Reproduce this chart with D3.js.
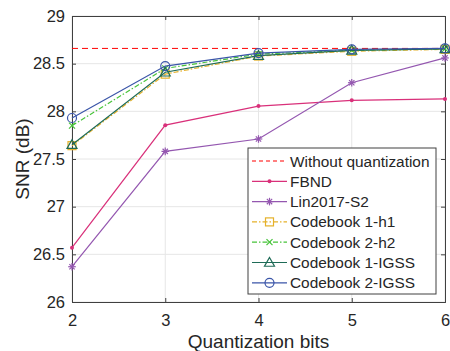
<!DOCTYPE html>
<html>
<head>
<meta charset="utf-8">
<script src="https://cdn.jsdelivr.net/npm/d3@7"></script>
<style>
  body { margin: 0; background: #fff; }
  svg { display: block; font-family: "Liberation Sans", Arial, sans-serif; }
</style>
</head>
<body>
<svg id="chart"></svg>
<script>
// data
const bits = [2, 3, 4, 5, 6];
const withoutQuant = 28.66;
const fbnd = [26.57, 27.855, 28.055, 28.115, 28.13];
const lin2017 = [26.37, 27.58, 27.71, 28.3, 28.56];
const cb1h1 = [27.64, 28.39, 28.58, 28.63, 28.65];
const cb2h2 = [27.85, 28.45, 28.6, 28.64, 28.655];
const cb1igss = [27.65, 28.41, 28.585, 28.64, 28.655];
const cb2igss = [27.93, 28.475, 28.61, 28.65, 28.66];
const yTicks = [26, 26.5, 27, 27.5, 28, 28.5, 29];

const width = 450, height = 351;
const margin = {top: 16, right: 5, bottom: 49, left: 72};

const svg = d3.select("#chart")
    .attr("width", width)
    .attr("height", height);

const x = d3.scaleLinear().domain([2, 6]).range([margin.left, width - margin.right]);
const y = d3.scaleLinear().domain([26, 29]).range([height - margin.bottom, margin.top]);

const textCol = "#262626", axisCol = "#404040";

//grid
svg.append("g").selectAll("line.gx")
    .data(bits)
    .join("line")
    .attr("x1", d => x(d)).attr("x2", d => x(d))
    .attr("y1", y(26)).attr("y2", y(29))
    .attr("stroke", "#e6e6e6").attr("stroke-width", 1);
svg.append("g").selectAll("line.gy")
    .data(yTicks)
    .join("line")
    .attr("x1", x(2)).attr("x2", x(6))
    .attr("y1", d => y(d)).attr("y2", d => y(d))
    .attr("stroke", "#e6e6e6").attr("stroke-width", 1);

//axes with inward ticks
const xAxis = svg.append("g")
    .attr("transform", `translate(0,${y(26)})`)
    .call(d3.axisBottom(x).tickValues(bits).tickSize(-4).tickPadding(12).tickFormat(d3.format("d")));
const yAxis = svg.append("g")
    .attr("transform", `translate(${x(2)},0)`)
    .call(d3.axisLeft(y).tickValues(yTicks).tickSize(-4).tickPadding(7).tickFormat(d => d));
// mirrored top/right axes (box on)
const xAxisTop = svg.append("g")
    .attr("transform", `translate(0,${y(29)})`)
    .call(d3.axisTop(x).tickValues(bits).tickSize(-4).tickFormat(""));
const yAxisRight = svg.append("g")
    .attr("transform", `translate(${x(6)},0)`)
    .call(d3.axisRight(y).tickValues(yTicks).tickSize(-4).tickFormat(""));

[xAxis, yAxis, xAxisTop, yAxisRight].forEach(g => {
    g.select(".domain").attr("stroke", axisCol);
    g.selectAll(".tick line").attr("stroke", axisCol);
    g.selectAll("text").attr("fill", textCol).style("font-size", "16.5px");
});

//axis labels
svg.append("text")
    .attr("x", (x(2) + x(6)) / 2).attr("y", 348)
    .attr("text-anchor", "middle")
    .attr("fill", textCol).style("font-size", "19px")
    .text("Quantization bits");
svg.append("text")
    .attr("transform", `translate(29,${(y(26) + y(29)) / 2}) rotate(-90)`)
    .attr("text-anchor", "middle")
    .attr("fill", textCol).style("font-size", "19px")
    .text("SNR (dB)");

//series
const series = [
    {name: "FBND", values: fbnd, color: "#d9307a", dash: null, marker: "dot"},
    {name: "Lin2017-S2", values: lin2017, color: "#9457b0", dash: null, marker: "star"},
    {name: "Codebook 1-h1", values: cb1h1, color: "#e5b12a", dash: "5,2,1.5,2", marker: "square"},
    {name: "Codebook 2-h2", values: cb2h2, color: "#47c33a", dash: "5,2,1.5,2", marker: "cross"},
    {name: "Codebook 1-IGSS", values: cb1igss, color: "#1e6b57", dash: null, marker: "triangle"},
    {name: "Codebook 2-IGSS", values: cb2igss, color: "#3a55a8", dash: null, marker: "circle"}
];

const line = d3.line().x((d, i) => x(bits[i])).y(d => y(d));

function drawMarker(g, type, cx, cy, color) {
    if (type === "dot") {
        g.append("circle").attr("cx", cx).attr("cy", cy).attr("r", 2).attr("fill", color);
    } else if (type === "star") {
        const s = 3.8;
        [[-s, 0, s, 0], [0, -s, 0, s], [-s * 0.7, -s * 0.7, s * 0.7, s * 0.7], [-s * 0.7, s * 0.7, s * 0.7, -s * 0.7]]
            .forEach(p => g.append("line")
                .attr("x1", cx + p[0]).attr("y1", cy + p[1]).attr("x2", cx + p[2]).attr("y2", cy + p[3])
                .attr("stroke", color).attr("stroke-width", 1.2));
    } else if (type === "square") {
        g.append("rect").attr("x", cx - 4).attr("y", cy - 4).attr("width", 8).attr("height", 8)
            .attr("fill", "none").attr("stroke", color).attr("stroke-width", 1.2);
    } else if (type === "cross") {
        const s = 3;
        [[-s, -s, s, s], [-s, s, s, -s]].forEach(p => g.append("line")
            .attr("x1", cx + p[0]).attr("y1", cy + p[1]).attr("x2", cx + p[2]).attr("y2", cy + p[3])
            .attr("stroke", color).attr("stroke-width", 1.2));
    } else if (type === "triangle") {
        const s = 5;
        g.append("path")
            .attr("d", `M${cx},${cy - s}L${cx + s},${cy + s * 0.75}L${cx - s},${cy + s * 0.75}Z`)
            .attr("fill", "none").attr("stroke", color).attr("stroke-width", 1.2);
    } else if (type === "circle") {
        g.append("circle").attr("cx", cx).attr("cy", cy).attr("r", 4.5)
            .attr("fill", "none").attr("stroke", color).attr("stroke-width", 1.2);
    }
}

//reference line
svg.append("line")
    .attr("x1", x(2)).attr("x2", x(6))
    .attr("y1", y(withoutQuant)).attr("y2", y(withoutQuant))
    .attr("stroke", "#ff0000").attr("stroke-width", 1).attr("stroke-dasharray", "6,4");

series.forEach(s => {
    const g = svg.append("g");
    g.append("path")
        .datum(s.values)
        .attr("d", line)
        .attr("fill", "none")
        .attr("stroke", s.color)
        .attr("stroke-width", 1.2)
        .attr("stroke-dasharray", s.dash);
    s.values.forEach((v, i) => drawMarker(g, s.marker, x(bits[i]), y(v), s.color));
});

//legend
const lg = svg.append("g").attr("transform", "translate(248,148)");
lg.append("rect")
    .attr("width", 188).attr("height", 146)
    .attr("fill", "#fff").attr("stroke", axisCol).attr("stroke-width", 1);

const legendItems = [{name: "Without quantization", color: "#ff0000", dash: "4,3", marker: null}].concat(series);
legendItems.forEach((s, i) => {
    const cy = 13 + i * 20.3;
    lg.append("line")
        .attr("x1", 4).attr("x2", 39).attr("y1", cy).attr("y2", cy)
        .attr("stroke", s.color).attr("stroke-width", 1.2)
        .attr("stroke-dasharray", s.dash);
    if (s.marker) drawMarker(lg, s.marker, 21.5, cy, s.color);
    lg.append("text")
        .attr("x", 42).attr("y", cy + 5.5)
        .attr("fill", textCol).style("font-size", "15.4px")
        .text(s.name);
});
</script>
</body>
</html>
